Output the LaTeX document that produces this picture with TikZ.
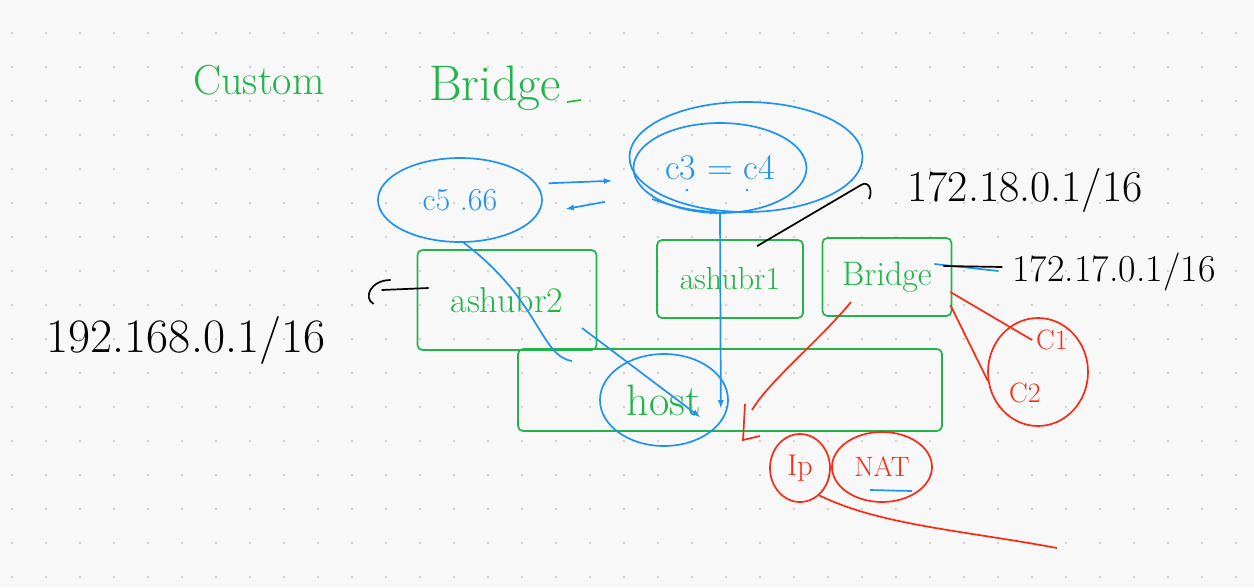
\documentclass[tikz,border=0pt]{standalone}
\usepackage{fontspec}
\usepackage{tikz}
\usetikzlibrary{shapes.geometric}
\usepackage{xcolor}
\definecolor{gruen}{HTML}{22B34A}
\definecolor{blau}{HTML}{2092F0}
\definecolor{rot}{HTML}{FA2A16}
\definecolor{papier}{HTML}{F8F8F8}
\definecolor{punkt}{HTML}{D0D0D0}

\newcommand\gr[1]{\fontsize{#1}{#1}\selectfont}

\begin{document}
\begin{tikzpicture}[x=1pt,y=-1pt,>=latex,line width=1.7pt,
  kasten/.style={draw=gruen, rounded corners=5pt, text=gruen, inner sep=0pt},
  kreisb/.style={draw=blau, ellipse, inner sep=0pt},
  kreisr/.style={draw=rot, ellipse, inner sep=0pt, text=rot},
  pfeilb/.style={draw=blau, ->}]

%Papier mit Punktraster
\fill[papier] (0,0) rectangle (1254,587);
\useasboundingbox (0,0) rectangle (1254,587);
\foreach \i in {0,...,36} {
  \foreach \j in {0,...,16} {
    \fill[punkt] (12+34*\i,33+34*\j) circle (1.3pt);
  }
}

%Ueberschrift
\node[text=gruen, font=\gr{42}] (custom) at (259,80) {Custom};
\node[text=gruen, font=\gr{50}] (titel) at (495,88) {Bridge};
\draw[gruen] (titel.east) ++(2,14) -- ++(14,-2);

%Container oben (blau)
\node[kreisb, minimum width=164, minimum height=84, text=blau, font=\gr{32}] (c5) at (460,200) {c5 .66};
\node[kreisb, minimum width=233, minimum height=110] (c34aussen) at (746,157) {};
\node[kreisb, minimum width=173, minimum height=90, text=blau, font=\gr{36}] (c34) at (720,168) {c3 = c4};
\fill[blau] (c34.center) ++(-33,22) circle (1.3pt);
\fill[blau] (c34.center) ++(27,22) circle (1.3pt);
\draw[pfeilb] (c34.center) ++(-68,31) to[bend right=8] ++(66,13);

%Pfeile zwischen den Containern
\draw[pfeilb, shorten <=12, shorten >=24] (c5.12) -- (c34.188);
\draw[pfeilb, shorten <=44, shorten >=28] (c34.200) -- (c5.-10);

%Bruecken (gruen)
\node[kasten, minimum width=179, minimum height=100, font=\gr{36}] (br2) at (507,300) {ashubr2};
\node[kasten, minimum width=146, minimum height=78, font=\gr{32}] (br1) at (730,279) {ashubr1};
\node[kasten, minimum width=129, minimum height=78, font=\gr{34}] (bridge) at (887,277) {Bridge};
\node[kasten, minimum width=424, minimum height=82] (hostbox) at (730,390) {};

%Host
\node[kreisb, minimum width=128, minimum height=92, text=gruen, font=\gr{44}] (host) at (664,400) {host};

%Netze (schwarz)
\node[font=\gr{48}] (netz192) at (186,340) {192.168.0.1/16};
\node[font=\gr{44}] (netz18) at (1025,190) {172.18.0.1/16};
\node[font=\gr{38}] (netz17) at (1114,272) {172.17.0.1/16};

%Verbindungen blau
\coordinate (c5ende) at (572,361);
\draw[blau] (c5.-85) .. controls (540,300) and (540,356) .. (c5ende);
\draw[pfeilb] ([shift={(75,28)}]br2.center) -- ([shift={(36,17)}]host.center);
\draw[pfeilb] (c34.south) -- ([shift={(-8,8)}]host.east);

%Verbindungen schwarz
\coordinate (k18) at (861,185);
\draw (br1.north) ++(27,7) -- (k18) .. controls (869,180) and (873,191) .. (869,199);
\draw[blau] ([shift={(-18,-13)}]bridge.east) -- ([shift={(-10,-1)}]netz17.west);
\draw ([shift={(-9,-11)}]bridge.east) -- ([shift={(-6,-5)}]netz17.west);
\draw (br2.west) ++(12,-12) -- ++(-47,2);
\draw ([shift={(-26,-20)}]br2.west) .. controls ([shift={(-46,-20)}]br2.west)
  and ([shift={(-54,-2)}]br2.west) .. ([shift={(-43,4)}]br2.west);

%rote Teile
\node[kreisr, minimum width=100, minimum height=108] (cgruppe) at (1038,372) {};
\node[text=rot, font=\gr{28}] (c1) at (1052,340) {C1};
\node[text=rot, font=\gr{28}] (c2) at (1025,393) {C2};
\draw[rot] ([shift={(-2,15)}]bridge.east) -- (c1.west);
\draw[rot] ([shift={(-2,28)}]bridge.east) -- (cgruppe.190);
\draw[rot] ([shift={(-36,25)}]bridge.center) .. controls (820,340) and (770,380) .. (752,410);
\draw[rot] (745,404) -- (743,440) -- (760,436);
\node[kreisr, minimum width=60, minimum height=68, font=\gr{30}] (ip) at (800,468) {Ip};
\node[kreisr, minimum width=100, minimum height=70, font=\gr{28}] (nat) at (882,467) {NAT};
\draw[blau] ([shift={(-12,23)}]nat.center) -- ++(42,1);
\coordinate (rotende) at (1057,548);
\draw[rot] (ip.-55) .. controls (880,525) and (960,530) .. (rotende);

\end{tikzpicture}
\end{document}
